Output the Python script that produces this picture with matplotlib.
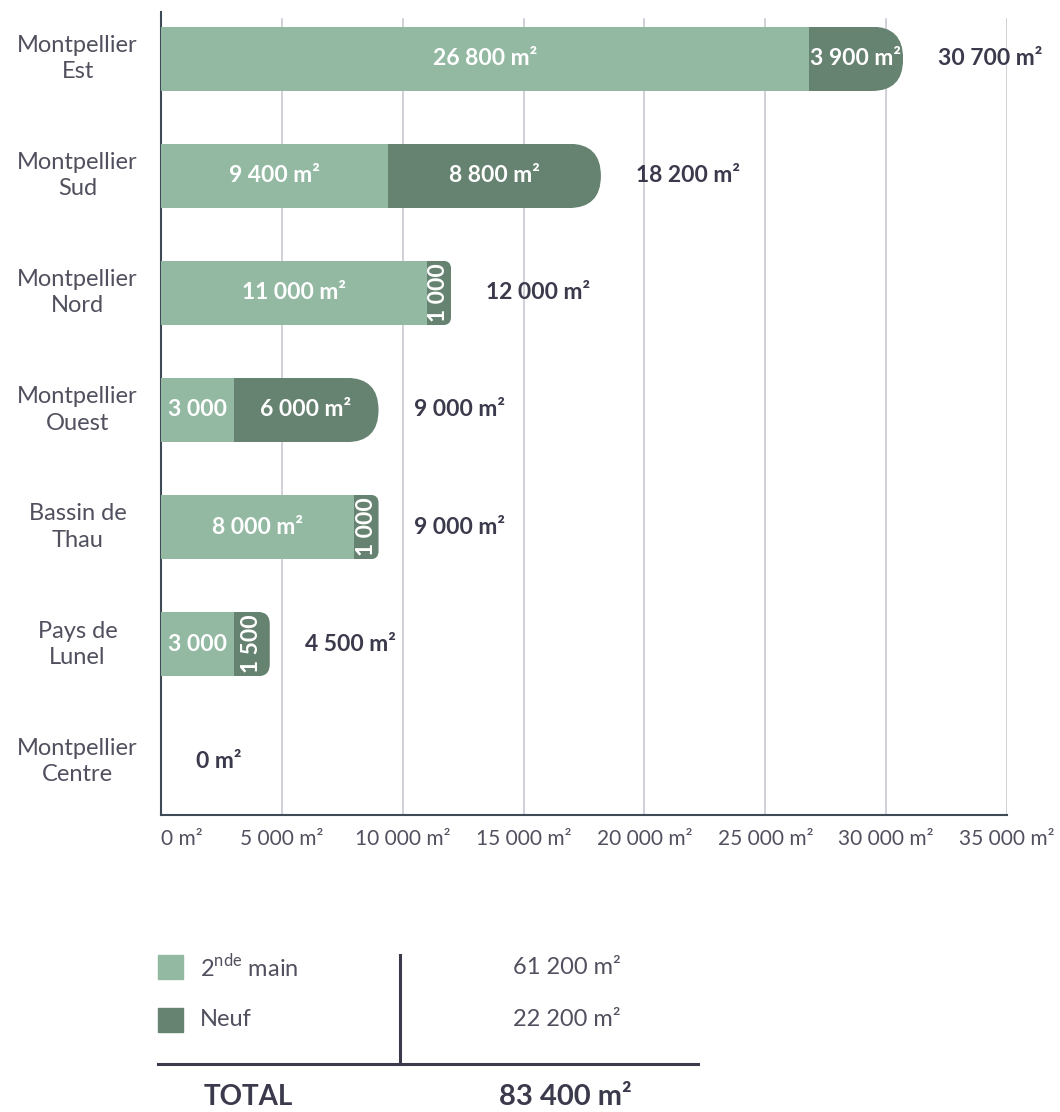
import matplotlib
matplotlib.use("Agg")
import matplotlib.pyplot as plt
from matplotlib.patches import FancyBboxPatch, Rectangle
from matplotlib.lines import Line2D

# ---- data -------------------------------------------------------------
categories = ["Montpellier\nEst", "Montpellier\nSud", "Montpellier\nNord",
              "Montpellier\nOuest", "Bassin de\nThau", "Pays de\nLunel",
              "Montpellier\nCentre"]
seconde_main = [26800, 9400, 11000, 3000, 8000, 3000, 0]
neuf = [3900, 8800, 1000, 6000, 1000, 1500, 0]
x_ticks = [0, 5000, 10000, 15000, 20000, 25000, 30000, 35000]
legend_labels = [r"2$^{\mathregular{nde}}$ main", "Neuf"]

# ---- style ------------------------------------------------------------
LIGHT = "#93b9a3"
DARK = "#668270"
INK = "#3a3a4c"
GREY_TXT = "#50505e"
GRID = "#c4c4cc"
SPINE = "#3f4a57"
plt.rcParams["font.family"] = ["Lato", "DejaVu Sans"]

W, H = 1060, 1112
fig = plt.figure(figsize=(W / 100, H / 100), dpi=100)
ax_l, ax_r, ax_t, ax_b = 161, 1007, 12, 815
ax = fig.add_axes([ax_l / W, 1 - ax_b / H, (ax_r - ax_l) / W, (ax_b - ax_t) / H])

def fmt(v):
    return f"{v:,}".replace(",", " ")

n = len(categories)
ypos = list(range(n))
bar_h = 0.55
ax.set_xlim(0, 35000)
ax.set_ylim(6.46, -0.4)

# pixel scale of data units (axes has a fixed position)
px_x = 35000 / ax.bbox.width
px_y = 6.86 / ax.bbox.height
aspect = px_y / px_x

light_bars = ax.barh(ypos, seconde_main, height=bar_h, color=LIGHT, zorder=3)
dark_bars = ax.barh(ypos, neuf, left=seconde_main, height=bar_h, color=DARK, zorder=3)

# rounded right end for each stacked bar
for i in range(n):
    total = seconde_main[i] + neuf[i]
    if total == 0:
        continue
    seg_px = (neuf[i] if neuf[i] else seconde_main[i]) / px_x
    bar_px = bar_h / px_y
    r_px = min(bar_px / 2, seg_px / 3)
    clip = FancyBboxPatch((-5000, ypos[i] - bar_h / 2), total + 5000, bar_h,
                          boxstyle=f"round,pad=0,rounding_size={r_px * px_x}",
                          mutation_aspect=aspect, transform=ax.transData)
    light_bars[i].set_clip_path(clip)
    dark_bars[i].set_clip_path(clip)

# labels inside and after the bars
lab_fs = 16.5
for i in range(n):
    a, b = seconde_main[i], neuf[i]
    if a:
        txt = fmt(a) if a < 5000 else fmt(a) + " m²"
        ax.text(a / 2, ypos[i], txt, ha="center", va="center", color="white",
                fontsize=lab_fs, fontweight="bold", zorder=4)
    if b:
        if b < 2000:
            ax.text(a + b / 2, ypos[i], fmt(b), ha="center", va="center",
                    color="white", fontsize=lab_fs, fontweight="bold",
                    rotation=90, zorder=4)
        else:
            ax.text(a + b / 2, ypos[i], fmt(b) + " m²", ha="center", va="center",
                    color="white", fontsize=lab_fs, fontweight="bold", zorder=4)
    ax.text(a + b + 1450, ypos[i], fmt(a + b) + " m²", ha="left", va="center",
            color=INK, fontsize=lab_fs, fontweight="bold", zorder=4)

# axes cosmetics
ax.set_yticks(ypos)
ax.set_yticklabels([])
for i, c in enumerate(categories):
    ax.text(-3450, ypos[i], c, ha="center", va="center", fontsize=17,
            color=GREY_TXT, linespacing=1.3)
ax.set_xticks(x_ticks)
ax.set_xticklabels([fmt(v) + " m²" for v in x_ticks], fontsize=15, color=GREY_TXT)
ax.get_xticklabels()[0].set_horizontalalignment("left")
ax.tick_params(axis="both", length=0)
ax.tick_params(axis="x", pad=10)
for xv in x_ticks[1:]:
    ax.axvline(xv, ymin=0, ymax=0.991, color=GRID, lw=1.1, zorder=1)
for s in ("top", "right"):
    ax.spines[s].set_visible(False)
for s in ("left", "bottom"):
    ax.spines[s].set_color(SPINE)
    ax.spines[s].set_linewidth(1.5)

# ---- summary table ----------------------------------------------------
def fx(x):
    return x / W

def fy(y):
    return 1 - y / H

totals = [sum(seconde_main), sum(neuf)]
row_y = [967, 1020]
for col, lab, tot, y in zip([LIGHT, DARK], legend_labels, totals, row_y):
    fig.patches.append(Rectangle((fx(158), fy(y + 12)), 25 / W, 24 / H,
                                 color=col, transform=fig.transFigure, figure=fig))
    fig.text(fx(200), fy(y), lab, ha="left", va="center", fontsize=17, color=GREY_TXT)
    fig.text(fx(567), fy(y), fmt(tot) + " m²", ha="center", va="center",
             fontsize=17, color=GREY_TXT)

fig.lines.append(Line2D([fx(400), fx(400)], [fy(955), fy(1064)], color=INK, lw=2.2,
                        transform=fig.transFigure))
fig.lines.append(Line2D([fx(158), fx(698)], [fy(1064), fy(1064)], color=INK, lw=2.2,
                        transform=fig.transFigure))
fig.text(fx(204), fy(1097), "TOTAL", ha="left", va="center", fontsize=20,
         fontweight="bold", color=INK)
fig.text(fx(565), fy(1097), fmt(sum(totals)) + " m²", ha="center", va="center",
         fontsize=21, fontweight="bold", color=INK)

fig.savefig("out.png", dpi=100, facecolor="white")
